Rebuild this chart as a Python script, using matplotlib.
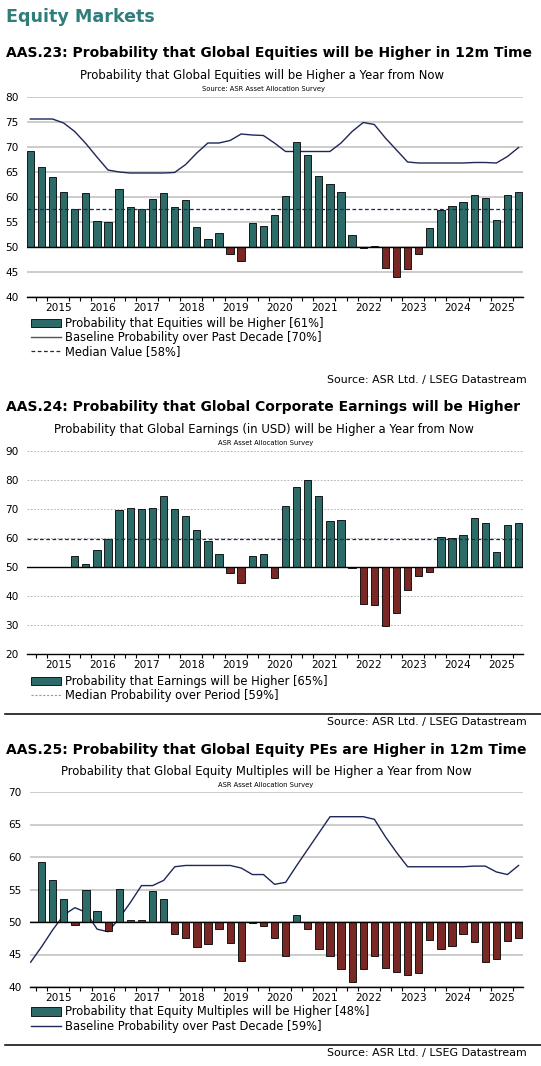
import numpy as np
import matplotlib
matplotlib.use("Agg")
import matplotlib.pyplot as plt
from matplotlib.lines import Line2D
from matplotlib.patches import Patch

# ---- data (quarterly survey readings, Q4 2014 .. Q4 2025) ----
years = list(range(2015, 2026))

eq_prob = [69.2, 66.0, 64.0, 61.0, 57.6, 60.8, 55.3, 55.1, 61.6, 58.0,
           57.6, 59.6, 60.9, 58.0, 59.4, 54.1, 51.7, 52.9, 48.6, 47.2,
           54.8, 54.3, 56.5, 60.2, 71.0, 68.4, 64.2, 62.6, 61.0, 52.4,
           49.9, 50.3, 45.9, 44.1, 45.7, 48.7, 53.8, 57.5, 58.3, 59.0,
           60.4, 59.8, 55.5, 60.5, 61.0]
eq_base = [75.6, 75.6, 75.6, 74.8, 73.1, 70.7, 68.0, 65.4, 65.0, 64.8,
           64.8, 64.8, 64.8, 64.9, 66.5, 68.8, 70.8, 70.8, 71.3, 72.6,
           72.4, 72.3, 70.8, 69.1, 69.1, 69.1, 69.1, 69.1, 70.8, 73.1,
           74.9, 74.5, 71.8, 69.4, 67.0, 66.8, 66.8, 66.8, 66.8, 66.8,
           66.9, 66.9, 66.8, 68.1, 69.9]
eq_median = 57.6

earn_prob = [None, None, None, None,
             53.7, 50.9, 55.7, 59.5, 69.5, 70.2, 69.9, 70.2, 74.4, 69.9,
             67.7, 62.6, 59.0, 54.4, 47.9, 44.5, 53.7, 54.4, 46.2, 71.0,
             77.6, 79.9, 74.4, 65.7, 66.3, 49.5, 37.2, 36.9, 29.7, 34.0,
             42.1, 46.9, 48.3, 60.3, 59.9, 60.9, 67.0, 65.2, 55.1, 64.4,
             65.1]
earn_median = 59.5

pe_prob = [None,
           59.3, 56.5, 53.5, 49.6, 55.0, 51.7, 48.6, 55.1, 50.3, 50.3,
           54.8, 53.6, 48.1, 47.6, 46.1, 46.6, 48.9, 46.8, 44.0, 49.8,
           49.4, 47.6, 44.7, 51.1, 48.9, 45.9, 44.7, 42.8, 40.7, 42.8,
           44.8, 43.0, 42.3, 41.9, 42.1, 47.2, 45.9, 46.3, 48.1, 47.0,
           43.8, 44.3, 47.1, 47.5]
pe_base = [43.8, 46.2, 48.8, 51.1, 52.2, 51.5, 48.9, 48.5, 50.6, 53.0,
           55.6, 55.6, 56.4, 58.5, 58.7, 58.7, 58.7, 58.7, 58.7, 58.3,
           57.3, 57.3, 55.8, 56.1, 58.7, 61.2, 63.7, 66.2, 66.2, 66.2,
           66.2, 65.8, 63.1, 60.7, 58.5, 58.5, 58.5, 58.5, 58.5, 58.5,
           58.6, 58.6, 57.7, 57.3, 58.7]

TEAL = "#2C6B67"
RED = "#7A2826"
NAVY = "#1E2758"
HEAD = "#2F7E7B"

W, H = 541, 1066
fig = plt.figure(figsize=(W / 100, H / 100), dpi=100)


def rect(left, right, top, bottom):
    return [left / W, 1 - bottom / H, (right - left) / W, (bottom - top) / H]


def ftext(x, y, s, **kw):
    fig.text(x / W, 1 - y / H, s, **kw)


def hline(y, x0=5, x1=541):
    fig.add_artist(Line2D([x0 / W, x1 / W], [1 - y / H, 1 - y / H],
                          color="black", lw=1.1))


def bar_panel(ax, vals, ylim, step, xlim, grid_style):
    x = np.arange(len(vals))
    v = np.array([np.nan if a is None else a for a in vals], dtype=float)
    ok = ~np.isnan(v)
    cols = [TEAL if a >= 50 else RED for a in v[ok]]
    ax.bar(x[ok], v[ok] - 50, bottom=50, width=0.66, color=cols,
           edgecolor="black", linewidth=0.6, zorder=3)
    ax.set_ylim(*ylim)
    ax.set_xlim(*xlim)
    ax.set_yticks(np.arange(ylim[0], ylim[1] + 0.1, step))
    ax.yaxis.grid(True, zorder=0, **grid_style)
    ax.set_axisbelow(True)
    ax.axhline(50, color="black", lw=1.0, zorder=4)
    for s in ["top", "right", "left"]:
        ax.spines[s].set_visible(False)
    ax.spines["bottom"].set_linewidth(1.0)
    ax.set_xticks([2.5 + 4 * k for k in range(len(years))])
    ax.set_xticklabels([str(y) for y in years], fontsize=7.6)
    ax.set_xticks(np.arange(0.5, len(vals) - 0.5, 1.0), minor=True)
    ax.tick_params(axis="x", which="major", length=0, pad=4.5)
    ax.tick_params(axis="x", which="minor", length=3, width=0.8,
                   direction="out")
    ax.tick_params(axis="y", length=0, pad=6, labelsize=7.6)
    return x


def legend(ax, handles, labels, top):
    ax.legend(handles, labels, loc="upper left",
              bbox_to_anchor=(31 / W, 1 - top / H),
              bbox_transform=fig.transFigure, frameon=False, fontsize=8.3,
              borderpad=0, borderaxespad=0, handlelength=2.6,
              handletextpad=0.35, labelspacing=0.1)


solid_grid = dict(color="#C4C4C4", lw=1.2, linestyle="-")
dash_grid = dict(color="#A8A8A8", lw=0.6, linestyle=(0, (2, 2)))

ftext(6, 21.7, "Equity Markets", fontsize=12.6, fontweight="bold",
      color=HEAD, va="baseline")

head_kw = dict(fontsize=10.0, fontweight="bold", va="baseline")
sub_kw = dict(fontsize=8.4, ha="center", va="center")
small_kw = dict(fontsize=4.9, ha="center", va="center")
src_kw = dict(fontsize=7.9, ha="right", va="center")

# ---- AAS.23 ----
ftext(6, 57, "AAS.23: Probability that Global Equities will be Higher in 12m Time",
      **head_kw)
ftext(262, 75, "Probability that Global Equities will be Higher a Year from Now",
      **sub_kw)
ftext(264, 88.5, "Source: ASR Asset Allocation Survey", **small_kw)
ax1 = fig.add_axes(rect(27, 523, 97, 297))
x1 = bar_panel(ax1, eq_prob, (40, 80), 5, (-0.3, 44.4), solid_grid)
ax1.plot(x1, eq_base, color=NAVY, lw=1.0, zorder=2)
ax1.axhline(eq_median, color=NAVY, lw=0.9, linestyle=(0, (3, 2)), zorder=5)
legend(ax1,
       [Patch(facecolor=TEAL, edgecolor="black", linewidth=0.6),
        Line2D([], [], color="#555555", lw=1.0),
        Line2D([], [], color=NAVY, lw=0.9, linestyle=(0, (3, 2)))],
       ["Probability that Equities will be Higher [61%]",
        "Baseline Probability over Past Decade [70%]",
        "Median Value [58%]"], 317)
ftext(527, 380, "Source: ASR Ltd. / LSEG Datastream", **src_kw)

# ---- AAS.24 ----
ftext(6, 411, "AAS.24: Probability that Global Corporate Earnings will be Higher",
      **head_kw)
ftext(264, 430, "Probability that Global Earnings (in USD) will be Higher a Year from Now",
      **sub_kw)
ftext(266, 443, "ASR Asset Allocation Survey", **small_kw)
ax2 = fig.add_axes(rect(27, 523, 451, 654))
x2 = bar_panel(ax2, earn_prob, (20, 90), 10, (-0.3, 44.4), dash_grid)
ax2.axhline(earn_median, color=NAVY, lw=0.9, linestyle=(0, (3, 2)), zorder=5)
legend(ax2,
       [Patch(facecolor=TEAL, edgecolor="black", linewidth=0.6),
        Line2D([], [], color="#9A9A9A", lw=0.8, linestyle=(0, (2, 1.5)))],
       ["Probability that Earnings will be Higher [65%]",
        "Median Probability over Period [59%]"], 675)
hline(714)
ftext(527, 722.5, "Source: ASR Ltd. / LSEG Datastream", **src_kw)

# ---- AAS.25 ----
ftext(6, 754, "AAS.25: Probability that Global Equity PEs are Higher in 12m Time",
      **head_kw)
ftext(266, 771, "Probability that Global Equity Multiples will be Higher a Year from Now",
      **sub_kw)
ftext(266, 785, "ASR Asset Allocation Survey", **small_kw)
ax3 = fig.add_axes(rect(30, 523, 792, 987))
x3 = bar_panel(ax3, pe_prob, (40, 70), 5, (-0.05, 44.4), solid_grid)
ax3.plot(x3, pe_base, color=NAVY, lw=1.0, zorder=2)
legend(ax3,
       [Patch(facecolor=TEAL, edgecolor="black", linewidth=0.6),
        Line2D([], [], color=NAVY, lw=1.0)],
       ["Probability that Equity Multiples will be Higher [48%]",
        "Baseline Probability over Past Decade [59%]"], 1005.5)
hline(1045)
ftext(527, 1053, "Source: ASR Ltd. / LSEG Datastream", **src_kw)

fig.savefig("out.png", dpi=100)
